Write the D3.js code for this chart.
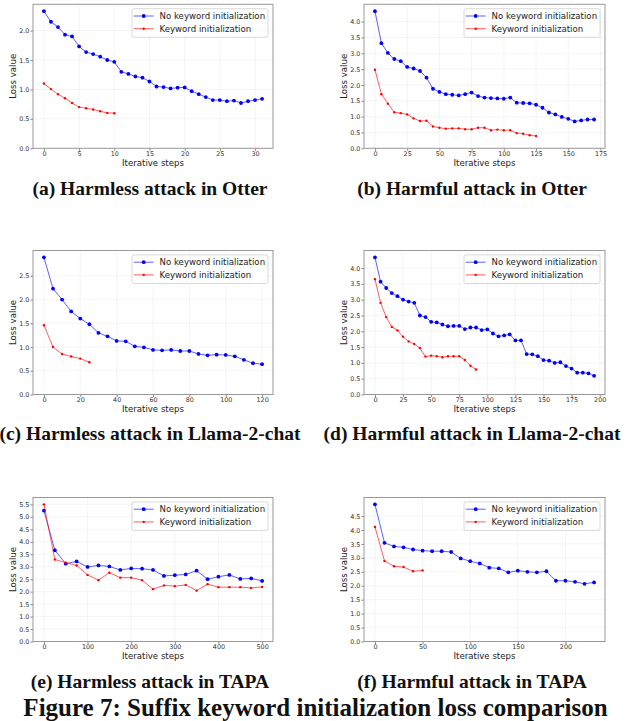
<!DOCTYPE html>
<html><head><meta charset="utf-8">
<script src="https://cdn.jsdelivr.net/npm/d3@7"></script>
<style>body{margin:0;background:#fff} svg{display:block}</style>
</head><body><svg id="c" width="629" height="721"></svg>
<script>
const seriesNames = ["No keyword initialization", "Keyword initialization"];
const captions = [
  "(a) Harmless attack in Otter", "(b) Harmful attack in Otter",
  "(c) Harmless attack in Llama-2-chat", "(d) Harmful attack in Llama-2-chat",
  "(e) Harmless attack in TAPA", "(f) Harmful attack in TAPA"
];
const figureCaption = "Figure 7: Suffix keyword initialization loss comparison";
const xLabel = "Iterative steps";
const yLabel = "Loss value";

// (a) Otter harmless
const stepsA_no = [0,1,2,3,4,5,6,7,8,9,10,11,12,13,14,15,16,17,18,19,20,21,22,23,24,25,26,27,28,29,30,31];
const lossA_no = [2.33,2.15,2.06,1.93,1.90,1.73,1.635,1.60,1.556,1.50,1.47,1.30,1.264,1.22,1.20,1.135,1.05,1.04,1.017,1.03,1.034,0.97,0.92,0.87,0.82,0.82,0.80,0.81,0.77,0.80,0.82,0.84];
const stepsA_kw = [0,1,2,3,4,5,6,7,8,9,10];
const lossA_kw = [1.10,1.006,0.92,0.85,0.77,0.70,0.68,0.66,0.63,0.60,0.596];
const xTicksA = [0,5,10,15,20,25,30];

// (b) Otter harmful
const stepsB_no = [0,5,10,15,20,25,30,35,40,45,50,55,60,65,70,75,80,85,90,95,100,105,110,115,120,125,130,135,140,145,150,155,160,165,170];
const lossB_no = [4.33,3.32,3.01,2.82,2.75,2.57,2.52,2.44,2.23,1.88,1.78,1.71,1.69,1.67,1.71,1.76,1.65,1.60,1.585,1.575,1.565,1.60,1.44,1.43,1.42,1.375,1.28,1.13,1.07,0.99,0.93,0.85,0.88,0.91,0.91];
const stepsB_kw = [0,5,10,15,20,25,30,35,40,45,50,55,60,65,70,75,80,85,90,95,100,105,110,115,120,125];
const lossB_kw = [2.48,1.71,1.41,1.14,1.11,1.07,0.945,0.86,0.87,0.69,0.65,0.62,0.63,0.63,0.60,0.60,0.65,0.65,0.57,0.59,0.57,0.57,0.48,0.46,0.41,0.39];
const xTicksB = [0,25,50,75,100,125,150,175];

// (c) Llama-2-chat harmless
const stepsC_no = [0,5,10,15,20,25,30,35,40,45,50,55,60,65,70,75,80,85,90,95,100,105,110,115,120];
const lossC_no = [2.89,2.23,2.00,1.75,1.60,1.48,1.30,1.225,1.13,1.12,1.015,0.994,0.94,0.93,0.94,0.917,0.917,0.854,0.826,0.84,0.833,0.805,0.73,0.66,0.64];
const stepsC_kw = [0,5,10,15,20,25];
const lossC_kw = [1.46,1.00,0.854,0.80,0.756,0.68];
const xTicksC = [0,20,40,60,80,100,120];

// (d) Llama-2-chat harmful
const stepsD_no = [0,5,10,15,20,25,30,35,40,45,50,55,60,65,70,75,80,85,90,95,100,105,110,115,120,125,130,135,140,145,150,155,160,165,170,175,180,185,190,195];
const lossD_no = [4.34,3.57,3.37,3.21,3.11,3.00,2.94,2.90,2.50,2.45,2.30,2.28,2.215,2.16,2.17,2.17,2.07,2.12,2.12,2.04,2.06,1.93,1.84,1.87,1.90,1.71,1.71,1.28,1.27,1.21,1.09,1.07,1.00,1.02,0.90,0.82,0.69,0.69,0.67,0.59];
const stepsD_kw = [0,5,10,15,20,25,30,35,40,45,50,55,60,65,70,75,80,85,90];
const lossD_kw = [3.65,2.90,2.45,2.14,2.03,1.83,1.68,1.60,1.47,1.20,1.23,1.21,1.18,1.21,1.21,1.21,1.09,0.91,0.79];
const xTicksD = [0,25,50,75,100,125,150,175,200];

// (e) TAPA harmless
const stepsE_no = [0,25,50,75,100,125,150,175,200,225,250,275,300,325,350,375,400,425,450,475,500];
const lossE_no = [5.25,3.66,3.12,3.21,2.99,3.05,3.01,2.87,2.93,2.92,2.87,2.63,2.66,2.69,2.84,2.50,2.60,2.67,2.51,2.53,2.43];
const stepsE_kw = [0,25,50,75,100,125,150,175,200,225,250,275,300,325,350,375,400,425,450,475,500];
const lossE_kw = [5.50,3.29,3.16,3.05,2.67,2.46,2.76,2.56,2.56,2.46,2.10,2.25,2.22,2.27,2.04,2.30,2.18,2.18,2.18,2.15,2.19];
const xTicksE = [0,100,200,300,400,500];

// (f) TAPA harmful
const stepsF_no = [0,10,20,30,40,50,60,70,80,90,100,110,120,130,140,150,160,170,180,190,200,210,220,230];
const lossF_no = [4.92,3.54,3.41,3.38,3.30,3.26,3.24,3.24,3.21,2.98,2.88,2.80,2.65,2.62,2.48,2.54,2.50,2.48,2.52,2.18,2.18,2.14,2.07,2.12];
const stepsF_kw = [0,10,20,30,40,50];
const lossF_kw = [4.11,2.89,2.70,2.67,2.52,2.55];
const xTicksF = [0,50,100,150,200];

const panels = [
  {cap: captions[0], no: [stepsA_no, lossA_no], kw: [stepsA_kw, lossA_kw], xt: xTicksA},
  {cap: captions[1], no: [stepsB_no, lossB_no], kw: [stepsB_kw, lossB_kw], xt: xTicksB},
  {cap: captions[2], no: [stepsC_no, lossC_no], kw: [stepsC_kw, lossC_kw], xt: xTicksC},
  {cap: captions[3], no: [stepsD_no, lossD_no], kw: [stepsD_kw, lossD_kw], xt: xTicksD},
  {cap: captions[4], no: [stepsE_no, lossE_no], kw: [stepsE_kw, lossE_kw], xt: xTicksE},
  {cap: captions[5], no: [stepsF_no, lossF_no], kw: [stepsF_kw, lossF_kw], xt: xTicksF}
];

// layout
const colLeft = [33, 364], colWidth = [240, 241];
const rowTop = [4.3, 250.5, 497.5], plotH = 144;
const capX = [150, 472], capY = [195, 439.5, 687.5];
const colors = ["#0000ff", "#ff0000"];
const sansFont = "'DejaVu Sans', sans-serif";
const serifFont = "'Liberation Serif', 'DejaVu Serif', serif";

const svg = d3.select("#c");

panels.forEach((p, i) => {
  const col = i % 2, row = Math.floor(i / 2);
  const L = colLeft[col], T = rowTop[row], W = colWidth[col], H = plotH;
  const allX = p.no[0].concat(p.kw[0]);
  const allY = p.no[1].concat(p.kw[1]);
  const xmin = d3.min(allX), xmax = d3.max(allX), ymax = d3.max(allY);
  const xpad = (xmax - xmin) * 0.05;
  const x = d3.scaleLinear().domain([xmin - xpad, xmax + xpad]).range([L, L + W]);
  const y = d3.scaleLinear().domain([0, ymax * 1.05]).range([T + H, T]);
  const yt = d3.range(0, ymax + 1e-9, 0.5);

  const g = svg.append("g");
  // grid
  g.selectAll(".gx").data(p.xt).join("line")
    .attr("x1", d => x(d)).attr("x2", d => x(d)).attr("y1", T).attr("y2", T + H)
    .attr("stroke", "#b0b0b0").attr("stroke-opacity", 0.22).attr("stroke-width", 0.6);
  g.selectAll(".gy").data(yt).join("line")
    .attr("y1", d => y(d)).attr("y2", d => y(d)).attr("x1", L).attr("x2", L + W)
    .attr("stroke", "#b0b0b0").attr("stroke-opacity", 0.22).attr("stroke-width", 0.6);

  // axes
  const xAxis = d3.axisBottom(x).tickValues(p.xt).tickSize(2.5).tickPadding(0.6).tickFormat(d3.format("d"));
  const yAxis = d3.axisLeft(y).tickValues(yt).tickSize(2.5).tickPadding(1.2).tickFormat(d3.format(".1f"));
  const gx = g.append("g").attr("transform", `translate(0,${T + H})`).call(xAxis);
  const gy = g.append("g").attr("transform", `translate(${L},0)`).call(yAxis);
  [gx, gy].forEach(a => {
    a.select(".domain").remove();
    a.selectAll(".tick line").attr("stroke", "#555").attr("stroke-width", 0.7);
    a.selectAll(".tick text").attr("fill", "#333").style("font-family", sansFont).style("font-size", "6.4px");
  });

  // series
  const series = [p.no, p.kw];
  series.forEach((s, k) => {
    const pts = s[0].map((v, j) => [v, s[1][j]]);
    const line = d3.line().x(d => x(d[0])).y(d => y(d[1]));
    g.append("path").datum(pts).attr("d", line)
      .attr("fill", "none").attr("stroke", colors[k]).attr("stroke-opacity", 0.7).attr("stroke-width", 0.9);
    g.selectAll(null).data(pts).join("circle")
      .attr("cx", d => x(d[0])).attr("cy", d => y(d[1]))
      .attr("r", k === 0 ? 1.9 : 1.2).attr("fill", colors[k]);
  });

  // frame
  g.append("rect").attr("x", L).attr("y", T).attr("width", W).attr("height", H)
    .attr("fill", "none").attr("stroke", "#999").attr("stroke-width", 1);

  // axis labels
  g.append("text").attr("x", L + W / 2).attr("y", T + H + 17.8).attr("text-anchor", "middle")
    .style("font-family", sansFont).style("font-size", "8.6px").attr("fill", "#222").text(xLabel);
  g.append("text").attr("transform", `translate(${L - 17.5},${T + H / 2}) rotate(-90)`).attr("text-anchor", "middle")
    .style("font-family", sansFont).style("font-size", "8.6px").attr("fill", "#222").text(yLabel);

  // legend
  const bw = 136, bh = 28.6;
  const bx = L + W - 5 - bw, by = T + 4.4;
  const lg = g.append("g");
  lg.append("rect").attr("x", bx).attr("y", by).attr("width", bw).attr("height", bh).attr("rx", 2)
    .attr("fill", "#fff").attr("fill-opacity", 0.85).attr("stroke", "#d0d0d0").attr("stroke-width", 0.8);
  seriesNames.forEach((nm, k) => {
    const ly = by + 7.3 + k * 12.7;
    lg.append("line").attr("x1", bx + 1.7).attr("x2", bx + 21.7).attr("y1", ly).attr("y2", ly)
      .attr("stroke", colors[k]).attr("stroke-opacity", 0.7).attr("stroke-width", 0.9);
    lg.append("circle").attr("cx", bx + 11.7).attr("cy", ly).attr("r", k === 0 ? 1.9 : 1.2).attr("fill", colors[k]);
    lg.append("text").attr("x", bx + 27.5).attr("y", ly).attr("dy", "0.35em")
      .style("font-family", sansFont).style("font-size", "8.6px").attr("fill", "#222").text(nm);
  });

  // caption
  svg.append("text").attr("x", capX[col]).attr("y", capY[row]).attr("text-anchor", "middle")
    .style("font-family", serifFont).style("font-weight", "bold").style("font-size", "19.5px")
    .attr("fill", "#111").text(p.cap);
});

svg.append("text").attr("x", 315.5).attr("y", 716).attr("text-anchor", "middle")
  .style("font-family", serifFont).style("font-weight", "bold").style("font-size", "25px")
  .attr("fill", "#111").text(figureCaption);
</script>
</body></html>
